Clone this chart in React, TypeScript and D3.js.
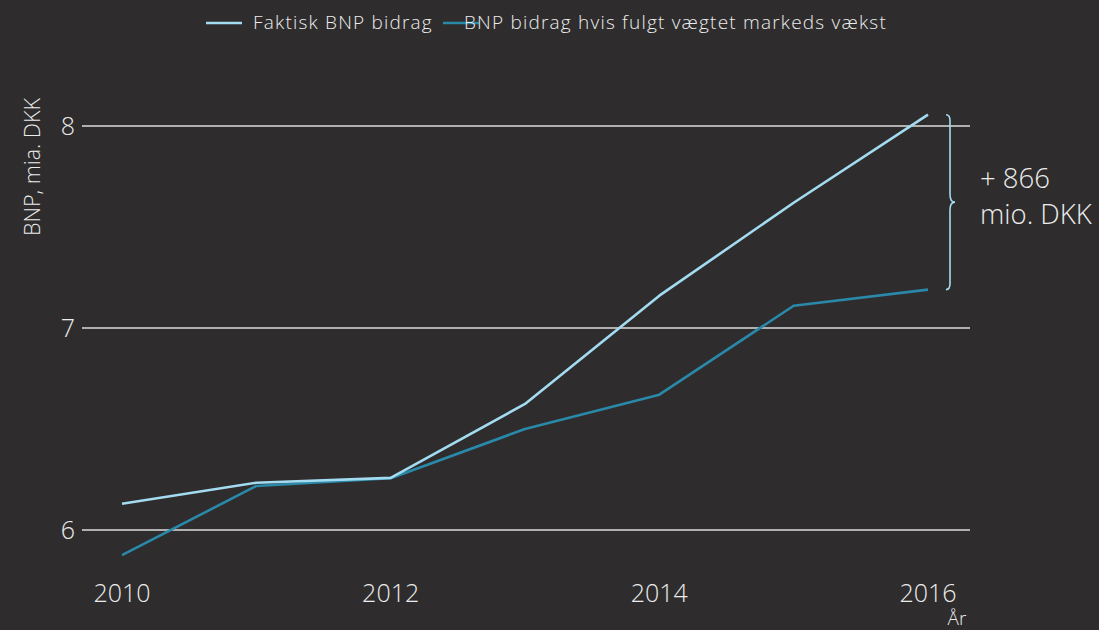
import React from "react";
import * as d3 from "d3";

const years = [2010, 2011, 2012, 2013, 2014, 2015, 2016];
const faktisk = [6.13, 6.234, 6.258, 6.624, 7.16, 7.62, 8.056];
const vaegtet = [5.876, 6.218, 6.256, 6.5, 6.67, 7.11, 7.19];
const yTicks = [6, 7, 8];
const xTicks = [2010, 2012, 2014, 2016];
const seriesNames = ["Faktisk BNP bidrag", "BNP bidrag hvis fulgt vægtet markeds vækst"];
const annotationLines = ["+ 866", "mio. DKK"];

const W = 1099;
const H = 630;
const BG = "#2e2c2d";
const LIGHT = "#a3dcf1";
const DARK = "#2a88a8";
const GRID = "#dcdcdc";
const TEXT = "#ececec";
const FONT = "'Open Sans', 'DejaVu Sans', sans-serif";

export default function App() {
  const x = d3.scaleLinear().domain([2010, 2016]).range([122, 928]);
  const y = d3.scaleLinear().domain([6, 8]).range([530, 126]);
  const line = d3
    .line<number>()
    .x((_, i) => x(years[i]))
    .y((d) => y(d));

  const last = years.length - 1;
  const yTop = y(faktisk[last]);
  const yBot = y(vaegtet[last]);
  const yMid = (yTop + yBot) / 2;
  const bx = 950;
  const brace = `M ${bx - 4} ${yTop} Q ${bx} ${yTop} ${bx} ${yTop + 6} L ${bx} ${yMid - 8} Q ${bx} ${yMid} ${bx + 5} ${yMid} Q ${bx} ${yMid} ${bx} ${yMid + 8} L ${bx} ${yBot - 6} Q ${bx} ${yBot} ${bx - 4} ${yBot}`;

  return (
    <svg
      width={W}
      height={H}
      style={{ position: "fixed", left: 0, top: 0, background: BG, fontFamily: FONT }}
    >
      <rect x={0} y={0} width={W} height={H} fill={BG} />
      {/* grid */}
      {yTicks.map((t) => (
        <g key={t}>
          <line x1={82} x2={970} y1={y(t)} y2={y(t)} stroke={GRID} strokeWidth={1.3} />
          <text x={75} y={y(t) + 9} textAnchor="end" fill={TEXT} fontSize={25} fontWeight={300}>
            {t}
          </text>
        </g>
      ))}
      {xTicks.map((t) => (
        <text key={t} x={x(t)} y={602} textAnchor="middle" fill={TEXT} fontSize={25} fontWeight={300}>
          {t}
        </text>
      ))}
      <text x={957} y={625} textAnchor="middle" fill={TEXT} fontSize={19} fontWeight={300}>
        År
      </text>
      <text
        transform={`translate(40, 167) rotate(-90)`}
        textAnchor="middle"
        fill={TEXT}
        fontSize={21.5}
        fontWeight={300}
      >
        BNP, mia. DKK
      </text>

      {/* lines */}
      <path d={line(vaegtet) || ""} fill="none" stroke={DARK} strokeWidth={2.6} strokeLinejoin="round" />
      <path d={line(faktisk) || ""} fill="none" stroke={LIGHT} strokeWidth={2.6} strokeLinejoin="round" />

      {/* brace and annotation */}
      <path d={brace} fill="none" stroke={LIGHT} strokeWidth={1.6} />
      {annotationLines.map((s, i) => (
        <text key={s} x={980} y={188 + i * 36} fill={TEXT} fontSize={27.5} fontWeight={300}>
          {s}
        </text>
      ))}

      {/* legend */}
      <line x1={206} x2={242} y1={23} y2={23} stroke={LIGHT} strokeWidth={2.6} />
      <text x={253} y={29} fill={TEXT} fontSize={19} fontWeight={300} letterSpacing={1.2}>
        {seriesNames[0]}
      </text>
      <line x1={443} x2={479} y1={23} y2={23} stroke={DARK} strokeWidth={2.6} />
      <text x={464} y={29} fill={TEXT} fontSize={19} fontWeight={300} letterSpacing={1.2}>
        {seriesNames[1]}
      </text>
    </svg>
  );
}
